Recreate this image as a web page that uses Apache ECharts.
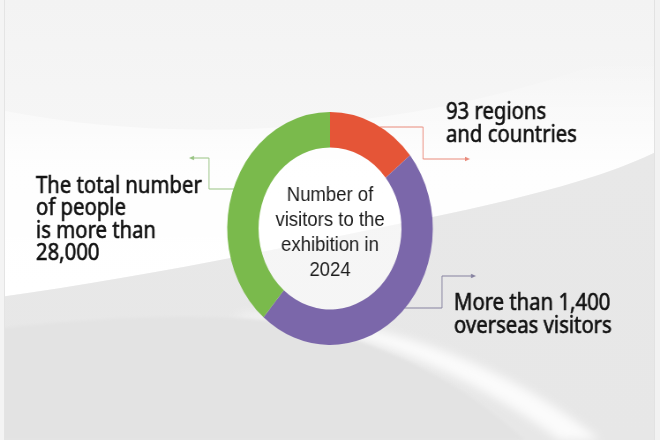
<!DOCTYPE html>
<html>
<head>
<meta charset="utf-8">
<script src="https://cdn.jsdelivr.net/npm/echarts@6/dist/echarts.min.js"></script>
<style>
  html, body { margin: 0; padding: 0; width: 660px; height: 440px; overflow: hidden; background: #f3f3f3; }
  #bg { position: absolute; left: 0; top: 0; }
  #chart { position: absolute; left: 0; top: 0; width: 748px; height: 440px; transform: scaleX(0.882353); transform-origin: 0 0; }
</style>
</head>
<body>
<svg id="bg" width="660" height="440" viewBox="0 0 660 440">
  <defs>
    <linearGradient id="base" x1="0" y1="0" x2="0" y2="1">
      <stop offset="0" stop-color="#f3f3f3"/>
      <stop offset="0.4" stop-color="#f7f7f7"/>
      <stop offset="1" stop-color="#f4f4f4"/>
    </linearGradient>
    <linearGradient id="white" gradientUnits="userSpaceOnUse" x1="0" y1="60" x2="0" y2="290">
      <stop offset="0" stop-color="#ffffff" stop-opacity="0"/>
      <stop offset="0.45" stop-color="#ffffff" stop-opacity="0.85"/>
      <stop offset="1" stop-color="#ffffff" stop-opacity="1"/>
    </linearGradient>
    <linearGradient id="low" gradientUnits="userSpaceOnUse" x1="0" y1="150" x2="0" y2="440">
      <stop offset="0" stop-color="#e8e8e8"/>
      <stop offset="1" stop-color="#e7e7e7"/>
    </linearGradient>
    <filter id="soft" x="-20%" y="-20%" width="140%" height="140%"><feGaussianBlur stdDeviation="5"/></filter>
    <filter id="soft2" x="-20%" y="-20%" width="140%" height="140%"><feGaussianBlur stdDeviation="1.5"/></filter>
  </defs>
  <rect width="660" height="440" fill="url(#base)"/>
  <path d="M0,110 C200,150 450,130 660,40 L660,150 C580,190 455,212 330,238 C210,263 100,283 0,297 Z" fill="url(#white)"/>
  <path d="M0,297 C100,283 210,263 330,238 C455,212 580,190 660,150 L660,440 L0,440 Z" fill="url(#low)"/>
  <path d="M230,318 C330,318 450,360 560,440 L600,440 C500,360 380,318 250,314 Z" fill="#fbfbfb" filter="url(#soft)"/>
  <path d="M0,328 C110,316 200,314 260,320 C370,332 460,380 525,440 L0,440 Z" fill="#e3e3e3" filter="url(#soft2)"/>
  <rect x="0" y="0" width="4" height="440" fill="#f4f4f4"/>
  <rect x="4" y="0" width="1" height="440" fill="#e4e4e4"/>
  <rect x="655" y="0" width="5" height="440" fill="#f2f2f2"/>
  <rect x="654" y="0" width="1" height="440" fill="#e2e2e2"/>
</svg>
<div id="chart"></div>
<script>
// ---- data ----
const categories = ['93 regions\nand countries', 'More than 1,400\noverseas visitors', 'The total number\nof people\nis more than\n28,000'];
const shares = [14.2, 47.0, 38.8];
const centerLines = ['Number of', 'visitors to the', 'exhibition in', '2024'];

// ---- styles / layout ----
const K = 660 / 748;              // horizontal squeeze of the original picture
const sx = x => x / K;            // original-pixel x -> chart x
const sliceColors = ['#e55537', '#7b67aa', '#7aba4c'];
const lineColors = ['#e98a7b', '#85819f', '#98c382'];
const labelPos = [[446, 101.6], [454, 292.6], [36, 174.9]];      // label top-left (original px)
const leaderPts = [
  [[380, 127], [423, 127], [423, 159], [466, 159]],
  [[404.5, 308], [442, 308], [442, 276], [472, 276]],
  [[234, 189], [209, 189], [209, 158], [193, 158]]
];
const arrowDir = [1, 1, -1];
const CX = 374, CY = 228.5, R0 = 81, R1 = 116.5;

const chart = echarts.init(document.getElementById('chart'));

const graphics = [];
// translucent hole
graphics.push({
  type: 'circle', z: 0, silent: true,
  shape: { cx: CX, cy: CY, r: R0 },
  style: { fill: 'rgba(255,255,255,0.6)' }
});
leaderPts.forEach((pts, i) => {
  graphics.push({
    type: 'polyline', silent: true,
    shape: { points: pts.map(p => [sx(p[0]), p[1]]) },
    style: { stroke: lineColors[i], lineWidth: 1, fill: null }
  });
  const end = pts[pts.length - 1];
  const d = arrowDir[i];
  const tip = [end[0] + 4 * d, end[1]];
  graphics.push({
    type: 'polygon', silent: true,
    shape: { points: [[sx(tip[0]), tip[1]], [sx(end[0] - 1 * d), end[1] - 2.2], [sx(end[0] - 1 * d), end[1] + 2.2]] },
    style: { fill: lineColors[i] }
  });
});
graphics.push({
  type: 'text', silent: true,
  x: CX, y: 232.3,
  style: {
    text: centerLines.join('\n'),
    align: 'center', verticalAlign: 'middle',
    textAlign: 'center', textVerticalAlign: 'middle',
    fontFamily: '"Liberation Sans", Arial, sans-serif',
    fontSize: 21, lineHeight: 25, fill: '#1c1c1c'
  }
});

chart.setOption({
  animation: false,
  graphic: graphics,
  series: [{
    type: 'pie',
    center: [CX, CY],
    radius: [R0, R1],
    startAngle: 90,
    clockwise: true,
    avoidLabelOverlap: false,
    silent: true,
    emphasis: { disabled: true },
    itemStyle: { borderWidth: 0 },
    label: {
      show: true,
      position: 'outside',
      formatter: '{b}',
      fontFamily: '"Noto Sans", sans-serif',
      fontSize: 23,
      lineHeight: 22.5,
      color: '#111111',
      textBorderColor: '#111111',
      textBorderWidth: 0.6
    },
    labelLine: { show: false },
    labelLayout: function (params) {
      const p = labelPos[params.dataIndex];
      return { x: sx(p[0]), y: p[1], align: 'left', verticalAlign: 'top' };
    },
    data: categories.map((c, i) => ({
      name: c, value: shares[i],
      itemStyle: { color: sliceColors[i] }
    }))
  }]
});
</script>
</body>
</html>
